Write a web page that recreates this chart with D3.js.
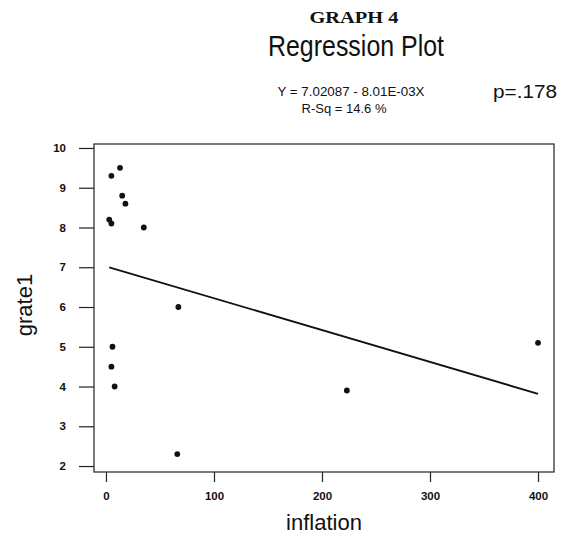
<!DOCTYPE html>
<html lang="en">
<head>
    <meta charset="UTF-8">
    <title>Regression Plot</title>
    <style>
        body { margin: 0; background: #fff; }
        svg text { font-family: "Liberation Sans", Arial, sans-serif; fill: #111; }
    </style>
</head>
<body>
    <div class="box"></div>
    <script src="https://d3js.org/d3.v7.min.js"></script>
    <script>
        // data
        const inflation = [13, 5, 15, 18, 3, 5, 35, 67, 6, 5, 8, 66, 223, 400];
        const grate1 = [9.5, 9.3, 8.8, 8.6, 8.2, 8.1, 8.0, 6.0, 5.0, 4.5, 4.0, 2.3, 3.9, 5.1];
        const xTicks = [0, 100, 200, 300, 400];
        const yTicks = [2, 3, 4, 5, 6, 7, 8, 9, 10];
        const fit = { a: 7.02087, b: -8.01e-3 };

        const width = 561, height = 537;
        const svg = d3.select(".box").append("svg")
            .attr("width", width)
            .attr("height", height);

        // plot box
        const box = { left: 94, right: 554, top: 144, bottom: 472 };

        const x = d3.scaleLinear().domain([-11.1, 414.8]).range([box.left, box.right]);
        const y = d3.scaleLinear().domain([1.85, 10.1]).range([box.bottom, box.top]);

        // titles
        svg.append("text")
            .attr("x", 354).attr("y", 23)
            .attr("text-anchor", "middle")
            .attr("textLength", 89).attr("lengthAdjust", "spacingAndGlyphs")
            .style("font-family", "'Liberation Serif', 'Times New Roman', serif")
            .style("font-weight", "bold")
            .style("font-size", "17px")
            .text("GRAPH 4");

        svg.append("text")
            .attr("x", 356).attr("y", 56)
            .attr("text-anchor", "middle")
            .attr("textLength", 176).attr("lengthAdjust", "spacingAndGlyphs")
            .style("font-size", "29px")
            .text("Regression Plot");

        svg.append("text")
            .attr("x", 351).attr("y", 96)
            .attr("text-anchor", "middle")
            .attr("textLength", 147).attr("lengthAdjust", "spacingAndGlyphs")
            .style("font-size", "12px")
            .text("Y = 7.02087 - 8.01E-03X");

        svg.append("text")
            .attr("x", 344).attr("y", 113)
            .attr("text-anchor", "middle")
            .attr("textLength", 85).attr("lengthAdjust", "spacingAndGlyphs")
            .style("font-size", "12px")
            .text("R-Sq = 14.6 %");

        svg.append("text")
            .attr("x", 493).attr("y", 98)
            .attr("textLength", 64).attr("lengthAdjust", "spacingAndGlyphs")
            .style("font-size", "18px")
            .text("p=.178");

        // frame
        svg.append("rect")
            .attr("x", box.left).attr("y", box.top)
            .attr("width", box.right - box.left)
            .attr("height", box.bottom - box.top)
            .attr("fill", "none")
            .attr("stroke", "#222")
            .attr("stroke-width", 1.2);

        // axes
        const yAxis = svg.append("g")
            .attr("transform", `translate(${box.left},0)`)
            .call(d3.axisLeft(y).tickValues(yTicks).tickSize(15).tickPadding(13));
        yAxis.select(".domain").remove();

        const xAxis = svg.append("g")
            .attr("transform", `translate(0,${box.bottom})`)
            .call(d3.axisBottom(x).tickValues(xTicks).tickSize(10).tickPadding(10));
        xAxis.select(".domain").remove();

        svg.selectAll(".tick line").attr("stroke", "#222").attr("stroke-width", 1.2);
        svg.selectAll(".tick text")
            .style("font-family", "'Liberation Sans', Arial, sans-serif")
            .style("font-size", "11.5px")
            .style("font-weight", "bold")
            .attr("fill", "#222");

        // axis titles
        svg.append("text")
            .attr("x", (box.left + box.right) / 2).attr("y", 530)
            .attr("text-anchor", "middle")
            .style("font-size", "22px")
            .text("inflation");

        svg.append("text")
            .attr("transform", "translate(32,305) rotate(-90)")
            .attr("text-anchor", "middle")
            .style("font-size", "22px")
            .text("grate1");

        // regression line over the data range
        const xr = d3.extent(inflation);
        svg.append("line")
            .attr("x1", x(xr[0])).attr("y1", y(fit.a + fit.b * xr[0]))
            .attr("x2", x(xr[1])).attr("y2", y(fit.a + fit.b * xr[1]))
            .attr("stroke", "#111")
            .attr("stroke-width", 1.8);

        // points
        svg.selectAll("circle.pt").data(inflation).join("circle")
            .attr("class", "pt")
            .attr("cx", d => x(d))
            .attr("cy", (d, i) => y(grate1[i]))
            .attr("r", 2.9)
            .attr("fill", "#111");
    </script>
</body>
</html>
